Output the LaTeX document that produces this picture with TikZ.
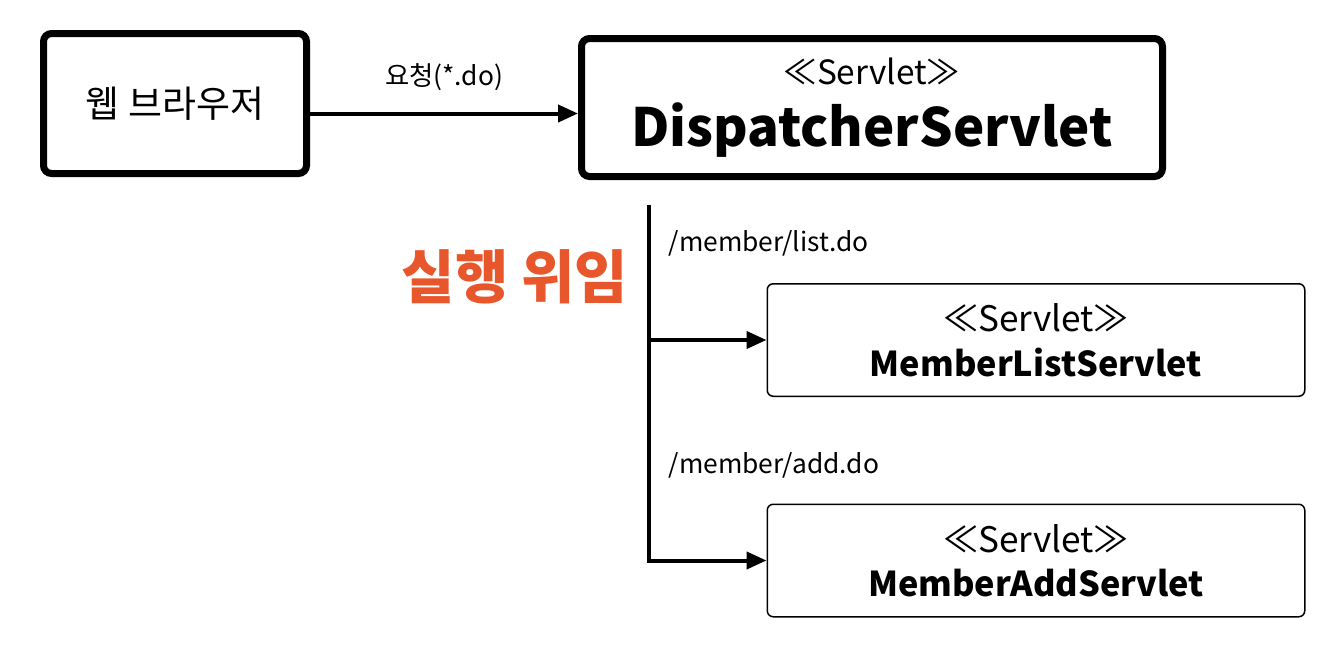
\documentclass[tikz,border=0pt]{standalone}
\usepackage{fontspec}
\setmainfont{Noto Sans CJK KR}
\usepackage{tikz}
\usetikzlibrary{positioning, arrows.meta, calc}
\definecolor{delegate}{HTML}{E8562B}

\begin{document}
\begin{tikzpicture}[
    thickbox/.style={draw, line width=0.14cm, rounded corners=0.16cm, align=center},
    thinbox/.style={draw, line width=0.03cm, rounded corners=0.12cm, align=center,
        minimum width=10.75cm, minimum height=2.25cm},
    conn/.style={line width=0.08cm, -{Triangle[length=0.4cm, width=0.34cm]}},
    urllabel/.style={font=\fontsize{15}{18}\selectfont}]

\useasboundingbox (0,0) rectangle (26.52,-12.96);

% Obere Reihe
\node[thickbox, minimum width=5.26cm, minimum height=2.8cm] (browser) at (3.5,-2.07)
    {\fontsize{21}{25}\selectfont 웹 브라우저};
\node[thickbox, minimum width=11.62cm, minimum height=2.76cm] (dispatcher) at (17.44,-2.15)
    {\fontsize{19}{22}\selectfont ≪Servlet≫\\[9pt]
     \fontsize{30}{34}\selectfont\bfseries DispatcherServlet};

\draw[conn] ([yshift=-0.2cm]browser.east) -- ([yshift=-0.2cm]browser.east -| dispatcher.west)
    node[midway, above=0.3cm, font=\fontsize{15}{18}\selectfont] (request) {요청(*.do)};

% Untere Servlets
\node[thinbox] (list) at (20.72,-6.8)
    {\fontsize{20}{23}\selectfont ≪Servlet≫\\[8pt]
     \fontsize{19.5}{23}\selectfont\bfseries MemberListServlet};
\node[thinbox] (add) at (20.72,-11.21)
    {\fontsize{20}{23}\selectfont ≪Servlet≫\\[8pt]
     \fontsize{19.5}{23}\selectfont\bfseries MemberAddServlet};

% Verteilung
\coordinate (trunk) at (12.98,-4.1);
\draw[conn] (trunk) |- (add.west);
\draw[conn] (trunk |- list.west) -- (list.west);

\node[urllabel, anchor=west] (listurl) at (13.25,-4.86) {/member/list.do};
\node[urllabel, anchor=west] (addurl) at (13.25,-9.3) {/member/add.do};

\node[text=delegate, font=\fontsize{33}{38}\selectfont\bfseries] (delegation) at (10.3,-5.54) {실행 위임};

\end{tikzpicture}
\end{document}
